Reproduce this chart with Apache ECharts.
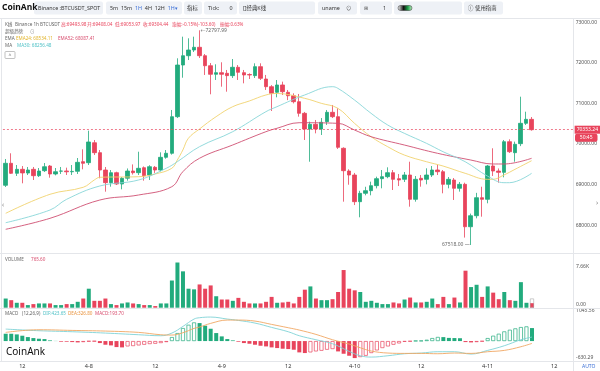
<!DOCTYPE html>
<html><head><meta charset="utf-8">
<script src="https://cdn.jsdelivr.net/npm/echarts@6/dist/echarts.min.js"></script>
<style>html,body{margin:0;padding:0;background:#fff}#c{width:600px;height:371px}</style>
</head><body><div id="c"></div>
<script>
// ---------- DATA ----------
const opens = [68986,69527,69281,69379,69288,69379,69222,69345,69460,69264,
69334,69338,69318,69330,69567,69542,70033,69788,69362,69051,
69296,69018,69160,69337,69296,69419,69240,69428,69362,69674,
69773,70673,71944,72173,72313,72380,72173,71927,71716,71756,
71740,71683,71888,71756,71710,71683,71904,71600,71411,71273,
71453,71273,71189,71042,70756,70370,70486,70370,70551,70781,
70673,69896,69337,69239,68583,68789,68854,68977,69149,69198,
69296,69149,69133,69239,68641,69158,69133,69239,69362,69320,
69010,69116,68912,69010,67967,68238,68681,68641,69461,69337,
69304,70058,69788,70010,70510,70608];
const closes = [69527,69281,69379,69290,69362,69222,69337,69443,69264,69320,
69338,69318,69328,69551,69527,70051,69788,69362,69051,69296,
69018,69158,69337,69296,69404,69222,69443,69362,69674,69773,
70673,71944,72173,72313,72380,72173,71927,71716,71756,71716,
71683,71888,71765,71699,71699,71904,71617,71411,71248,71453,
71288,71189,71042,70756,70370,70486,70370,70535,70781,70673,
69920,69345,69239,68583,68789,68854,68977,69149,69198,69296,
69133,69116,69239,68641,69133,69116,69239,69362,69320,69010,
69133,68912,69010,67967,68238,68681,68641,69461,69337,69304,
70058,69812,69994,70510,70608,70353.24];
const lows = [68944,69264,69215,69035,69239,69116,69190,69313,69173,69230,
69264,69239,69239,69264,69379,69485,69731,69158,68829,68952,
68993,68887,69100,69250,69239,69100,69116,69290,69330,69640,
69740,70640,71632,72067,72264,72117,71699,71224,71576,71411,
71288,71625,71576,71494,71600,71625,71576,71330,70813,71150,
71207,71080,71000,70674,70100,69566,70264,70223,70470,70640,
69880,68583,69000,68500,68199,68740,68740,68910,68912,69160,
68870,68968,69067,68460,68583,68952,69010,69190,69239,68789,
68912,68625,68830,67700,67518,68174,68214,68543,69215,69050,
69182,69780,69566,69950,70469,70330];
const highs = [69633,69773,69485,69460,69436,69436,69411,69534,69485,69411,
69436,69420,69485,69657,69871,70329,70100,69854,69436,69362,
69320,69190,69400,69500,69812,69450,69480,69460,69797,69854,
70838,72109,72641,72601,72641,72797.99,72215,71993,71962,72011,
71822,72092,71944,71822,71740,71986,71986,71700,71450,71575,
71535,71330,71248,71232,70790,70551,70592,70640,70838,70961,
70879,69920,69380,69290,68850,68950,69075,69198,69362,69428,
69362,69264,69313,69566,69215,69239,69404,69460,69485,69362,
69190,69165,69067,69050,68290,68800,68951,69485,69896,69400,
70100,70117,70060,71165,70796,70665];
const volumes = [1554,1277,833,833,444,611,722,722,722,444,
444,611,611,999,1554,3219,1166,1166,1554,611,
444,722,888,722,611,444,444,278,722,722,
4607,7659,6161,3219,3108,3941,3219,3774,1943,1388,
1388,1166,1665,999,722,722,722,999,1832,833,
888,999,722,1832,3053,3608,1554,1277,1277,1443,
2664,6383,3219,2942,2664,999,1166,833,611,611,
888,722,1388,1721,888,888,999,1554,611,1832,
611,1721,888,6272,3497,3885,1832,3608,2553,1443,
2664,1277,1166,4329,833,765.6];
const forecastVolIndex = 95, forecastVol = 1554;
const macdHist = [232,232,211,169,126,95,74,63,21,5,
-21,-21,-32,-42,-32,-11,-8,-63,-116,-137,
-190,-200,-169,-158,-137,-116,-95,-84,-63,-32,
126,253,411,516,590,569,485,390,253,148,
63,21,-21,-63,-84,-116,-148,-169,-200,-221,
-242,-253,-274,-358,-379,-358,-327,-306,-274,-253,
-327,-401,-464,-538,-506,-464,-379,-295,-221,-169,
-116,-74,-21,-11,8,11,42,95,130,125,
100,95,90,-32,-42,-32,-11,95,169,232,
306,358,401,443,464,411];
// [candle index, value]
const difPoints = [[0,379],[6,327],[12,295],[18,253],[24,200],[28,169],[30,253],[32,464],[34,696],[35,738],[37,759],[40,696],[42,653],[45,569],[48,432],[51,295],[53,169],[56,42],[59,-84],[62,-327],[64,-464],[66,-506],[69,-464],[72,-401],[75,-379],[78,-337],[81,-337],[84,-411],[87,-295],[90,-148],[93,42],[95,126]];
const deaPoints = [[0,274],[6,358],[12,337],[18,316],[24,274],[28,200],[30,190],[32,264],[34,401],[35,443],[37,559],[40,664],[42,664],[45,632],[48,527],[51,422],[53,348],[56,211],[59,42],[62,-95],[64,-211],[66,-316],[69,-379],[72,-390],[75,-390],[78,-401],[81,-379],[84,-390],[87,-337],[90,-295],[93,-179],[95,-74]];
const ema24Points = [[0,68297],[8,68765],[14,68937],[16,69116],[17,69183],[24,69197],[27,69264],[30,69404],[31,69608],[32,69854],[33,70142],[35,70370],[38,70673],[41,70919],[44,71059],[47,71207],[49,71244],[54,71125],[57,71002],[60,70880],[63,70511],[66,70181],[69,69935],[72,69731],[76,69566],[79,69460],[83,69281],[87,69133],[88,69133],[90,69239],[92,69379],[95,69591]];
const ma30Points = [[0,68066],[8,68378],[11,68641],[17,68969],[24,69116],[29,69404],[31,69566],[35,69935],[41,70304],[47,70796],[49,70919],[54,71207],[59,71411],[60,71371],[63,71084],[66,70756],[69,70469],[72,70265],[76,70019],[79,69812],[83,69566],[87,69215],[90,69050],[91,69050],[95,69281]];
const ema52Points = [[0,67904],[8,68174],[17,68624],[24,68747],[30,68951],[32,69320],[35,69650],[41,69977],[47,70304],[49,70388],[53,70525],[60,70510],[63,70346],[66,70181],[72,69977],[78,69773],[84,69608],[88,69510],[90,69510],[95,69650]];
const priceTickMin = 68000, priceTickMax = 73000;
const lastPrice = 70353.24, countdown = '50:45';
const highIdx = 35, highVal = 72797.99, lowIdx = 84, lowVal = 67518.00;
const volMaxLabel = 7660, macdMax = 1045.56, macdMin = -630.29;

// ---------- CATEGORIES (hourly, from 4-7 09:00) ----------
const slotCount = 103;
const categories = [];
for (let i = 0; i < slotCount; i++) {
  const t = 9 + i, day = 7 + Math.floor(t / 24), hour = t % 24;
  categories.push('4-' + day + ' ' + String(hour).padStart(2, '0') + ':00');
}

const UP = '#22ab7d', DOWN = '#e8445c';
const FONT = '"Noto Sans","Noto Sans CJK SC",sans-serif';
const candleData = opens.map((o, i) => [o, closes[i], lows[i], highs[i]]);
const volData = volumes.map((v, i) => ({value: v, itemStyle: {color: closes[i] >= opens[i] ? UP : DOWN}}));
const forecastData = categories.map((c, i) => i === forecastVolIndex ? forecastVol : null);
const histData = macdHist.map((v, i) => {
  const prev = i > 0 ? macdHist[i - 1] : v;
  const col = v >= 0 ? UP : DOWN;
  const hollow = v > prev;
  return {value: v, itemStyle: hollow
    ? {color: 'rgba(255,255,255,0)', borderColor: col, borderWidth: 0.7}
    : {color: col}};
});

const G = {left: 2.93, width: 570.6};
const chart = echarts.init(document.getElementById('c'), null, {renderer: 'canvas'});
const xBase = {type: 'category', data: categories, boundaryGap: true,
  axisLine: {show: false}, axisTick: {show: false}, splitLine: {show: false}};
const near = (a, b) => Math.abs(a - b) < 1e-6;

chart.setOption({
  animation: false,
  textStyle: {fontFamily: FONT},
  grid: [
    {left: G.left, width: G.width, top: 1.75, height: 264.3},
    {left: G.left, width: G.width, top: 262.5, height: 45.2},
    {left: G.left, width: G.width, top: 308, height: 53}
  ],
  xAxis: [
    Object.assign({gridIndex: 0, axisLabel: {show: false}}, xBase),
    Object.assign({gridIndex: 1, axisLabel: {show: false}}, xBase),
    Object.assign({gridIndex: 2, axisLabel: {
      show: true, fontSize: 5.5, color: '#333', margin: 3, fontFamily: FONT,
      interval: (idx, val) => val.endsWith(' 00:00') || val.endsWith(' 12:00'),
      formatter: val => val.endsWith('12:00') ? '12' : val.split(' ')[0]
    }}, xBase)
  ],
  yAxis: [
    {gridIndex: 0, type: 'value', position: 'right', min: 67000, max: 73500, interval: 1000,
      axisLine: {show: false}, axisTick: {show: false}, splitLine: {show: false},
      axisLabel: {fontSize: 5, color: '#555', margin: 2.5,
        formatter: v => (v >= priceTickMin && v <= priceTickMax) ? v.toFixed(2) : ''}},
    {gridIndex: 1, type: 'value', position: 'right', min: 0, max: volMaxLabel, interval: volMaxLabel,
      axisLine: {show: false}, axisTick: {show: false}, splitLine: {show: false},
      axisLabel: {fontSize: 5, color: '#555', margin: 2.5,
        formatter: v => v === 0 ? '{lo|0.00}' : (near(v, volMaxLabel) ? '{hi|' + (volMaxLabel / 1000).toFixed(2) + 'K}' : ''),
        rich: {lo: {fontSize: 5, color: '#555', padding: [0, 0, 7, 0]}, hi: {fontSize: 5, color: '#555', padding: [9, 0, 0, 0]}}}},
    {gridIndex: 2, type: 'value', position: 'right', min: macdMin, max: macdMax,
      axisLine: {show: false}, axisTick: {show: false}, splitLine: {show: false},
      axisLabel: {fontSize: 5, color: '#555', margin: 2.5, showMinLabel: true, showMaxLabel: true,
        formatter: v => near(v, macdMax) ? '{hi|' + macdMax.toFixed(2) + '}' : (near(v, macdMin) ? '{lo|' + macdMin.toFixed(2) + '}' : ''),
        rich: {lo: {fontSize: 5, color: '#555', padding: [0, 0, 7, 0]}, hi: {fontSize: 5, color: '#555', padding: [6, 0, 0, 0]}}}}
  ],
  series: [
    {type: 'candlestick', xAxisIndex: 0, yAxisIndex: 0, data: candleData, barWidth: '72%',
      itemStyle: {color: UP, color0: DOWN, borderColor: UP, borderColor0: DOWN, borderWidth: 0.8},
      markLine: {silent: true, symbol: ['none', 'none'], data: [{yAxis: lastPrice}],
        lineStyle: {color: DOWN, type: [2, 2], width: 0.7},
        label: {position: 'end', distance: 1.5, formatter: lastPrice.toFixed(2), color: '#fff',
          backgroundColor: DOWN, fontSize: 5, padding: [1.5, 2], fontFamily: FONT}},
      markPoint: {silent: true, symbol: 'circle', symbolSize: 0.1, data: [
        {coord: [highIdx, highVal], value: highVal, label: {show: true, position: 'right', distance: 1,
          formatter: '←' + highVal.toFixed(2), color: '#666', fontSize: 5, fontFamily: FONT}},
        {coord: [lowIdx, lowVal], value: lowVal, label: {show: true, position: 'left', distance: 1,
          formatter: lowVal.toFixed(2) + ' —', color: '#666', fontSize: 5, fontFamily: FONT}}
      ]}},
    {type: 'line', xAxisIndex: 0, yAxisIndex: 0, data: ema24Points, smooth: 0.4, showSymbol: false,
      lineStyle: {color: '#f1d36e', width: 0.9}},
    {type: 'line', xAxisIndex: 0, yAxisIndex: 0, data: ema52Points, smooth: 0.4, showSymbol: false,
      lineStyle: {color: '#cf4f72', width: 0.9}},
    {type: 'line', xAxisIndex: 0, yAxisIndex: 0, data: ma30Points, smooth: 0.4, showSymbol: false,
      lineStyle: {color: '#88d6d8', width: 0.9}},
    {type: 'bar', xAxisIndex: 1, yAxisIndex: 1, data: volData, barWidth: '72%'},
    {type: 'bar', xAxisIndex: 1, yAxisIndex: 1, data: forecastData, barWidth: '72%', barGap: '-100%',
      itemStyle: {color: 'rgba(255,255,255,0)', borderColor: '#aaa', borderWidth: 0.6}},
    {type: 'bar', xAxisIndex: 2, yAxisIndex: 2, data: histData, barWidth: '72%'},
    {type: 'line', xAxisIndex: 2, yAxisIndex: 2, data: difPoints, smooth: 0.4, showSymbol: false,
      lineStyle: {color: '#7fd3d6', width: 0.9}},
    {type: 'line', xAxisIndex: 2, yAxisIndex: 2, data: deaPoints, smooth: 0.4, showSymbol: false,
      lineStyle: {color: '#f1a763', width: 0.9}}
  ]
});

// ---------- decorations / texts ----------
const py = chart.convertToPixel({yAxisIndex: 0}, lastPrice);
function T(x, y, text, fill, size, opt) {
  opt = opt || {};
  return {type: 'text', x: x, y: y, z: 120, style: Object.assign({text: text, fill: fill, fontSize: size,
    fontFamily: FONT, verticalAlign: 'middle', align: opt.align || 'left'}, opt.style || {})};
}
function R(x, y, w, h, fill, stroke, r) {
  return {type: 'rect', z: 110, shape: {x: x, y: y, width: w, height: h, r: r || 2},
    style: {fill: fill, stroke: stroke || null, lineWidth: 0.6}};
}
function L(x1, y1, x2, y2, c) {
  return {type: 'line', z: 5, shape: {x1: x1, y1: y1, x2: x2, y2: y2}, style: {stroke: c || '#e4e6ea', lineWidth: 1}};
}
const BOX = '#eef1f6', TX = '#333', BLUE = '#3b6fd6', TS = 5.4, HS = 4.6;
const g = [
  R(0, 0, 600, 18, '#fff', null, 0),
  L(0, 18.5, 600, 18.5),
  L(0, 253.5, 600, 253.5),
  L(0, 308.5, 600, 308.5),
  L(0, 361.5, 600, 361.5),
  L(573.5, 18.5, 573.5, 371),
  L(1.5, 18.5, 1.5, 361.5),
  T(2, 8, 'CoinAnk', '#111', 8.5, {style: {fontWeight: 'bold'}}),
  R(34, 1.5, 69, 13, BOX), T(38, 8, 'Binance :BTCUSDT_SPOT', TX, TS),
  R(106, 1.5, 76, 13, BOX),
  T(110, 8, '5m  15m  {b|1H}  4H  12H  {b|1H▾}', TX, TS, {style: {rich: {b: {fill: BLUE, fontSize: TS, fontFamily: FONT}}}}),
  R(184, 1.5, 18, 13, BOX), T(187, 8, '指标', TX, TS),
  R(204, 1.5, 33, 13, BOX), T(208, 8, 'Tick:', TX, TS), T(229.5, 8, '0', TX, TS),
  R(239, 1.5, 76, 13, BOX), T(243, 8, '[]经典K线', TX, TS),
  R(318, 1.5, 39, 13, BOX), T(322, 8, 'uname', TX, TS), T(346, 8, '⊙', '#555', TS),
  R(360, 1.5, 32, 13, BOX), T(364, 8, '⊞', '#555', TS), T(383, 8, '1', TX, TS),
  R(394, 1.5, 68, 13, BOX),
  {type: 'rect', z: 121, shape: {x: 398, y: 5.5, width: 14, height: 5, r: 2.5},
    style: {fill: new echarts.graphic.LinearGradient(0, 0, 1, 0, [{offset: 0, color: '#ffffff'}, {offset: 0.4, color: '#111'}, {offset: 0.7, color: '#1fa34a'}, {offset: 1, color: '#c8f0c8'}]), stroke: '#333', lineWidth: 0.5}},
  R(464, 1.5, 39, 13, BOX), T(468, 8, 'ⓘ', '#444', TS), T(475, 8, '使用指南', TX, TS),
  // chart header
  T(5, 24.3, 'K线', '#666', HS), T(15, 24.3, 'Binance 1h BTCUSDT', '#666', HS),
  T(61, 24.3, '高:69493.98', DOWN, HS), T(87, 24.3, '开:69408.04', DOWN, HS),
  T(115, 24.3, '低:69053.97', DOWN, HS), T(143, 24.3, '收:69304.44', DOWN, HS),
  T(172, 24.3, '涨幅:-0.15%(-103.60)', DOWN, HS), T(220, 24.3, '振幅:0.63%', DOWN, HS),
  T(5, 32, '超级趋势', '#666', HS), T(30, 32, '⊙', '#888', HS),
  T(5, 38.7, 'EMA', '#666', HS), T(16, 38.7, 'EMA24: 68534.11', '#e2b52c', HS), T(58, 38.7, 'EMA52: 68087.41', '#d84d6e', HS),
  T(5, 46, 'MA', '#666', HS), T(17, 46, 'MA30: 68256.48', '#4fc1c6', HS),
  R(5, 51.5, 10, 7, '#fff', '#999', 1), T(10, 55.5, '^', '#666', 5, {align: 'center'}),
  T(5, 259.3, 'VOLUME', '#666', HS), T(31, 259.3, '765.60', '#d84d6e', HS),
  T(5, 313.3, 'MACD', '#666', HS), T(22, 313.3, '(12,26,9)', '#666', HS),
  T(43, 313.3, 'DIF:423.65', '#4fc1c6', HS), T(68, 313.3, 'DEA:326.80', '#e8923c', HS), T(95, 313.3, 'MACD:193.70', '#d84d6e', HS),
  T(6, 352.5, 'CoinAnk', '#111', 10),
  T(582, 367, 'AUTO', BLUE, 5),
  T(2, 205, '‹', '#888', 7), T(596, 202.5, '›', '#888', 7),
  R(575, py + 4, 22.5, 8, DOWN, null, 0), T(586.2, py + 8, countdown, '#fff', 5, {align: 'center'})
];
chart.setOption({graphic: g});
</script>
</body></html>
